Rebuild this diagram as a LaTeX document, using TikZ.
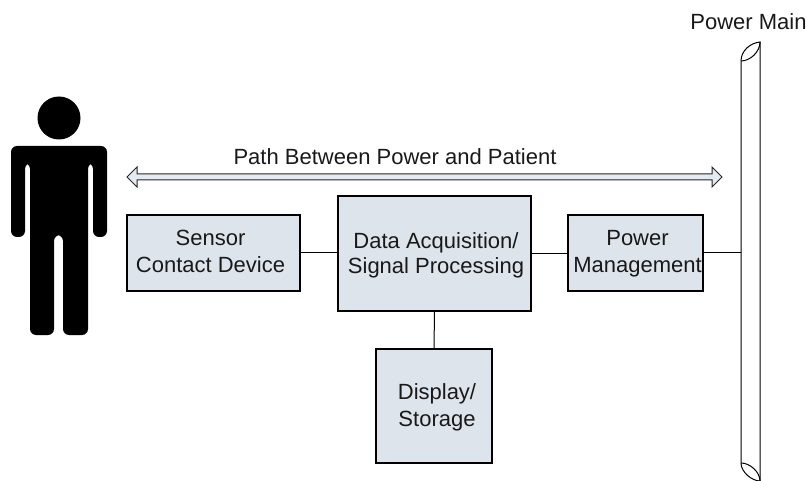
\documentclass[tikz,border=0pt]{standalone}
\usepackage{fontspec}
\setmainfont{Liberation Sans}
\definecolor{boxfill}{HTML}{DEE4EB}
\definecolor{arrowfill}{HTML}{E3EAF0}
\tikzset{
  blockbox/.style={draw=black,line width=2pt,fill=boxfill,inner sep=0pt,align=center,font=\fontsize{22}{27}\selectfont,text=black!90},
  wire/.style={draw=black,line width=1pt},
  label/.style={inner sep=0pt,font=\fontsize{22}{27}\selectfont,text=black!90},
  personfill/.style={fill=black,draw=none}
}
\begin{document}
\begin{tikzpicture}[x=1pt,y=-1pt]
\useasboundingbox (0,0) rectangle (806,481);
% person
\fill[personfill] (59,118) circle (21.5);
\fill[personfill,rounded corners=6pt]
  (11,237) -- (11,146) -- (107,146) -- (107,237) -- (93,237) -- (93,163) -- (88,163)
  -- (88,335) -- (63,335) -- (63,235) -- (54,235) -- (54,335) -- (30,335) -- (30,163) -- (25,163) -- (25,237) -- cycle;
% pipe
\draw[line width=1pt] (741,61) -- (741,463) .. controls (741,472) and (752,481) .. (760,481) -- (760,42)
  .. controls (750,43) and (741,51) .. (741,61);
\draw[line width=1pt] (741,61) .. controls (750,61) and (760,52) .. (760,42);
\draw[line width=1pt] (741,463) .. controls (750,463) and (760,472) .. (760,481);
\coordinate (pipeL) at (741,253);
\node[label,anchor=center] (mainlabel) at (748.5,22) {Power Main};
% arrow
\draw[line width=1pt,fill=arrowfill,draw=black!85]
  (127,177) -- (137,167) -- (137,174) -- (712,174) -- (712,167) -- (722,177) -- (712,187) -- (712,180) -- (137,180) -- (137,187) -- cycle;
\node[label] (pathlabel) at (395,157) {Path Between Power and Patient};
% boxes
\node[blockbox,minimum width=173pt,minimum height=76pt] (sensor) at (213.5,253) {};
\node[blockbox,minimum width=193pt,minimum height=115pt] (daq) at (434.5,253.5) {};
\node[blockbox,minimum width=135pt,minimum height=76pt] (power) at (635.5,253) {};
\node[blockbox,minimum width=116pt,minimum height=114pt] (display) at (434,406) {};
\node[label,align=center] (sensortext) at (210.5,251) {Sensor\\Contact Device};
\node[label,align=center] (daqtext) at (436,255) {Data Acquisition/\\[-2pt]Signal Processing};
\node[label,align=center] (powertext) at (637.5,254) {Power\\Management};
\node[label,align=center] (displaytext) at (437,407) {Display/\\Storage};
% connectors
\draw[wire] (sensor.east) -- (sensor.east -| daq.west);
\draw[wire] (daq.east) -- (daq.east -| power.west);
\draw[wire] (power.east) -- (pipeL);
\draw[wire] (daq.south) -- (display.north);
\end{tikzpicture}
\end{document}
